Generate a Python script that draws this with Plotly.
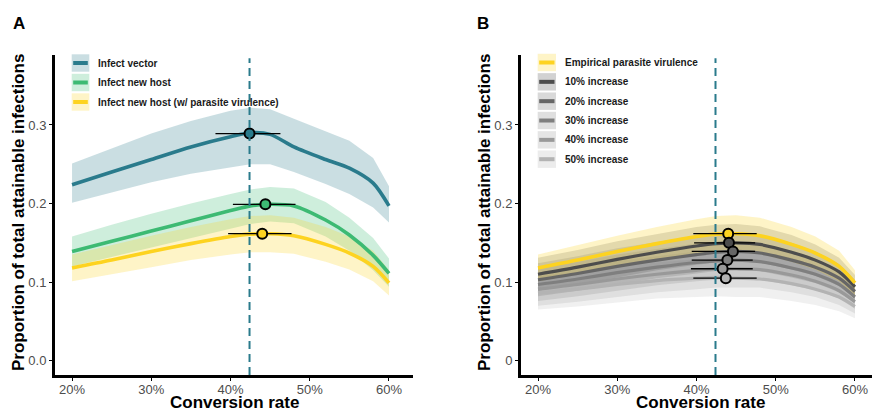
import plotly.graph_objects as go

W, H = 872, 411

# ---------------- data ----------------
conv_rate = [0.20, 0.25, 0.30, 0.35, 0.40, 0.425, 0.45, 0.48, 0.52, 0.55, 0.58, 0.60]

vector_mean = [0.224, 0.240, 0.256, 0.272, 0.285, 0.290, 0.288, 0.272, 0.256, 0.245, 0.226, 0.197]
vector_lo   = [0.201, 0.214, 0.227, 0.238, 0.246, 0.250, 0.250, 0.240, 0.225, 0.212, 0.195, 0.176]
vector_hi   = [0.251, 0.270, 0.289, 0.305, 0.318, 0.322, 0.320, 0.308, 0.292, 0.280, 0.258, 0.222]

host_mean = [0.139, 0.152, 0.165, 0.178, 0.191, 0.197, 0.199, 0.197, 0.179, 0.160, 0.134, 0.111]
host_lo   = [0.120, 0.132, 0.144, 0.156, 0.168, 0.174, 0.177, 0.175, 0.158, 0.140, 0.115, 0.094]
host_hi   = [0.158, 0.173, 0.187, 0.200, 0.212, 0.218, 0.221, 0.219, 0.202, 0.182, 0.156, 0.130]

vir_mean = [0.118, 0.128, 0.139, 0.149, 0.158, 0.161, 0.1615, 0.159, 0.148, 0.137, 0.120, 0.099]
vir_lo   = [0.101, 0.110, 0.119, 0.128, 0.135, 0.138, 0.138, 0.136, 0.126, 0.116, 0.101, 0.083]
vir_hi   = [0.135, 0.147, 0.159, 0.170, 0.180, 0.184, 0.185, 0.182, 0.170, 0.158, 0.140, 0.115]

inc10_mean = [0.110, 0.119, 0.129, 0.138, 0.146, 0.149, 0.150, 0.148, 0.138, 0.128, 0.113, 0.094]
inc20_mean = [0.103, 0.111, 0.120, 0.128, 0.135, 0.138, 0.139, 0.137, 0.128, 0.119, 0.105, 0.088]
inc30_mean = [0.097, 0.104, 0.112, 0.119, 0.125, 0.127, 0.128, 0.126, 0.118, 0.110, 0.097, 0.081]
inc40_mean = [0.091, 0.097, 0.104, 0.110, 0.115, 0.117, 0.117, 0.116, 0.109, 0.101, 0.089, 0.075]
inc50_mean = [0.086, 0.091, 0.097, 0.102, 0.105, 0.106, 0.105, 0.104, 0.098, 0.091, 0.081, 0.069]
inc_halfwidth = [0.021, 0.022, 0.023, 0.023, 0.024, 0.024, 0.024, 0.023, 0.022, 0.020, 0.018, 0.015]

a_labels = ["Infect vector", "Infect new host", "Infect new host (w/ parasite virulence)"]
a_peak_x = [0.424, 0.444, 0.440]
a_peak_y = [0.289, 0.199, 0.1616]
a_err_lo = [0.381, 0.403, 0.397]
a_err_hi = [0.463, 0.482, 0.477]

b_labels = ["Empirical parasite virulence", "10% increase", "20% increase",
            "30% increase", "40% increase", "50% increase"]
b_peak_x = [0.440, 0.441, 0.446, 0.439, 0.433, 0.437]
b_peak_y = [0.1616, 0.150, 0.139, 0.128, 0.117, 0.105]
b_err_lo = [0.396, 0.397, 0.394, 0.394, 0.393, 0.396]
b_err_hi = [0.476, 0.474, 0.474, 0.471, 0.471, 0.476]

empirical_conversion = 0.424

x_tickvals = [0.2, 0.3, 0.4, 0.5, 0.6]
x_ticktext = ["20%", "30%", "40%", "50%", "60%"]
y_tickvals = [0.0, 0.1, 0.2, 0.3]
a_y_ticktext = ["0.0", "0.1", "0.2", "0.3"]
b_y_ticktext = ["0", "0.1", "0.2", "0.3"]

# ---------------- styles ----------------
TEAL = (42, 123, 140)
GREEN = (61, 186, 115)
YELLOW = (253, 211, 32)
GREYS = [(77, 77, 77), (102, 102, 102), (127, 127, 127), (153, 153, 153), (179, 179, 179)]
FONT = "Liberation Sans, Arial, Helvetica, sans-serif"


def rgb(c, a=None):
    if a is None:
        return "rgb(%d,%d,%d)" % c
    return "rgba(%d,%d,%d,%.3f)" % (c[0], c[1], c[2], a)


def px(x):
    return x / W


def py(y):
    return 1 - y / H


fig = go.Figure()


def add_band(lo, hi, col, xa, ya, alpha=0.25):
    fig.add_trace(go.Scatter(
        x=conv_rate + conv_rate[::-1], y=hi + lo[::-1], fill="toself",
        fillcolor=rgb(col, alpha), line=dict(width=0), mode="lines",
        hoverinfo="skip", showlegend=False, xaxis=xa, yaxis=ya))


def add_line(y, col, xa, ya, w=3.6):
    fig.add_trace(go.Scatter(
        x=conv_rate, y=y, mode="lines", line=dict(color=rgb(col), width=w, shape="spline", smoothing=0.8),
        showlegend=False, hoverinfo="skip", xaxis=xa, yaxis=ya))


def add_peaks(xs, ys, lo, hi, cols, xa, ya):
    fig.add_trace(go.Scatter(
        x=xs, y=ys, mode="markers",
        marker=dict(size=10, color=[rgb(c) for c in cols], line=dict(color="black", width=2)),
        error_x=dict(type="data", symmetric=False,
                     array=[h - x for h, x in zip(hi, xs)],
                     arrayminus=[x - l for l, x in zip(lo, xs)],
                     color="black", thickness=1.3, width=0),
        showlegend=False, hoverinfo="skip", xaxis=xa, yaxis=ya))


# ---- Panel A ----
add_band(vector_lo, vector_hi, TEAL, "x", "y")
add_band(host_lo, host_hi, GREEN, "x", "y")
add_band(vir_lo, vir_hi, YELLOW, "x", "y")
add_line(vector_mean, TEAL, "x", "y")
add_line(host_mean, GREEN, "x", "y")
add_line(vir_mean, YELLOW, "x", "y")

# ---- Panel B ----
inc_means = [inc10_mean, inc20_mean, inc30_mean, inc40_mean, inc50_mean]
for m, c in zip(inc_means[::-1], GREYS[::-1]):
    add_band([v - h for v, h in zip(m, inc_halfwidth)], [v + h for v, h in zip(m, inc_halfwidth)],
             c, "x2", "y2", alpha=0.2)
add_band(vir_lo, vir_hi, YELLOW, "x2", "y2")
for m, c in zip(inc_means[::-1], GREYS[::-1]):
    add_line(m, c, "x2", "y2", w=3.2)
add_line(vir_mean, YELLOW, "x2", "y2")

# reference lines
for xa, ya in (("x", "y"), ("x2", "y2")):
    fig.add_shape(type="line", xref=xa, yref=ya + " domain", x0=empirical_conversion, x1=empirical_conversion,
                  y0=0, y1=0.99, line=dict(color=rgb(TEAL), width=2, dash="8px,5px"), layer="above")

add_peaks(a_peak_x, a_peak_y, a_err_lo, a_err_hi, [TEAL, GREEN, YELLOW], "x", "y")
add_peaks(b_peak_x, b_peak_y, b_err_lo, b_err_hi, [YELLOW] + GREYS, "x2", "y2")

# ---------------- axes ----------------
axis_common = dict(showline=True, linewidth=3, linecolor="black", showgrid=False, zeroline=False,
                   ticks="outside", ticklen=3, tickwidth=1, tickcolor="black",
                   tickfont=dict(family=FONT, size=13, color="#4D4D4D"), fixedrange=True)
ydom = [py(375), py(55)]
fig.update_layout(
    width=W, height=H, margin=dict(l=0, r=0, t=0, b=0),
    paper_bgcolor="white", plot_bgcolor="white", showlegend=False,
    font=dict(family=FONT),
    xaxis=dict(domain=[px(55), px(413)], range=[0.1785, 0.6303], anchor="y",
               tickvals=x_tickvals, ticktext=x_ticktext, ticklabelstandoff=-3, **axis_common),
    yaxis=dict(domain=ydom, range=[-0.0182, 0.389], anchor="x",
               tickvals=y_tickvals, ticktext=a_y_ticktext, **axis_common),
    xaxis2=dict(domain=[px(521), 1.0], range=[0.17855, 0.6215], anchor="y2",
                tickvals=x_tickvals, ticktext=x_ticktext, ticklabelstandoff=-3, **axis_common),
    yaxis2=dict(domain=ydom, range=[-0.0182, 0.389], anchor="x2",
                tickvals=y_tickvals, ticktext=b_y_ticktext, **axis_common),
)

# ---------------- titles ----------------
ann = []
def text(x, y, s, size, angle=0, xanchor="center", color="black"):
    ann.append(dict(x=px(x), y=py(y), xref="paper", yref="paper", text=s, showarrow=False,
                    textangle=angle, xanchor=xanchor, yanchor="middle",
                    font=dict(family=FONT, size=size, color=color)))

text(19, 23, "<b>A</b>", 17)
text(483, 23, "<b>B</b>", 17)
text(234, 402.5, "<b>Conversion rate</b>", 17)
text(700, 402.5, "<b>Conversion rate</b>", 17)
text(18, 213, "<b>Proportion of total attainable infections</b>", 17, angle=-90)
text(484, 213, "<b>Proportion of total attainable infections</b>", 17, angle=-90)

# ---------------- manual legends ----------------
shapes = []
def legend(x0, x1, tx, centers, labels, cols):
    for cy, lab, c in zip(centers, labels, cols):
        shapes.append(dict(type="rect", xref="paper", yref="paper", x0=px(x0), x1=px(x1),
                           y0=py(cy + 8.7), y1=py(cy - 8.7), fillcolor=rgb(c, 0.25),
                           line=dict(width=0), layer="above"))
        shapes.append(dict(type="line", xref="paper", yref="paper", x0=px(x0 + 1.5), x1=px(x1 - 1.5),
                           y0=py(cy), y1=py(cy), line=dict(color=rgb(c), width=4), layer="above"))
        text(tx, cy, "<b>%s</b>" % lab, 10, xanchor="left", color="#1A1A1A")

legend(71.7, 89.3, 96, [63, 82.5, 102], a_labels, [TEAL, GREEN, YELLOW])
legend(537.7, 556, 562.5, [62.5 + 19.34 * i for i in range(6)], b_labels, [YELLOW] + GREYS)

fig.update_layout(annotations=ann)
for s in shapes:
    fig.add_shape(**s)

fig.write_html("out.html", config={"displayModeBar": False},
               post_script="document.body.style.margin='0';document.body.style.overflow='hidden';")
